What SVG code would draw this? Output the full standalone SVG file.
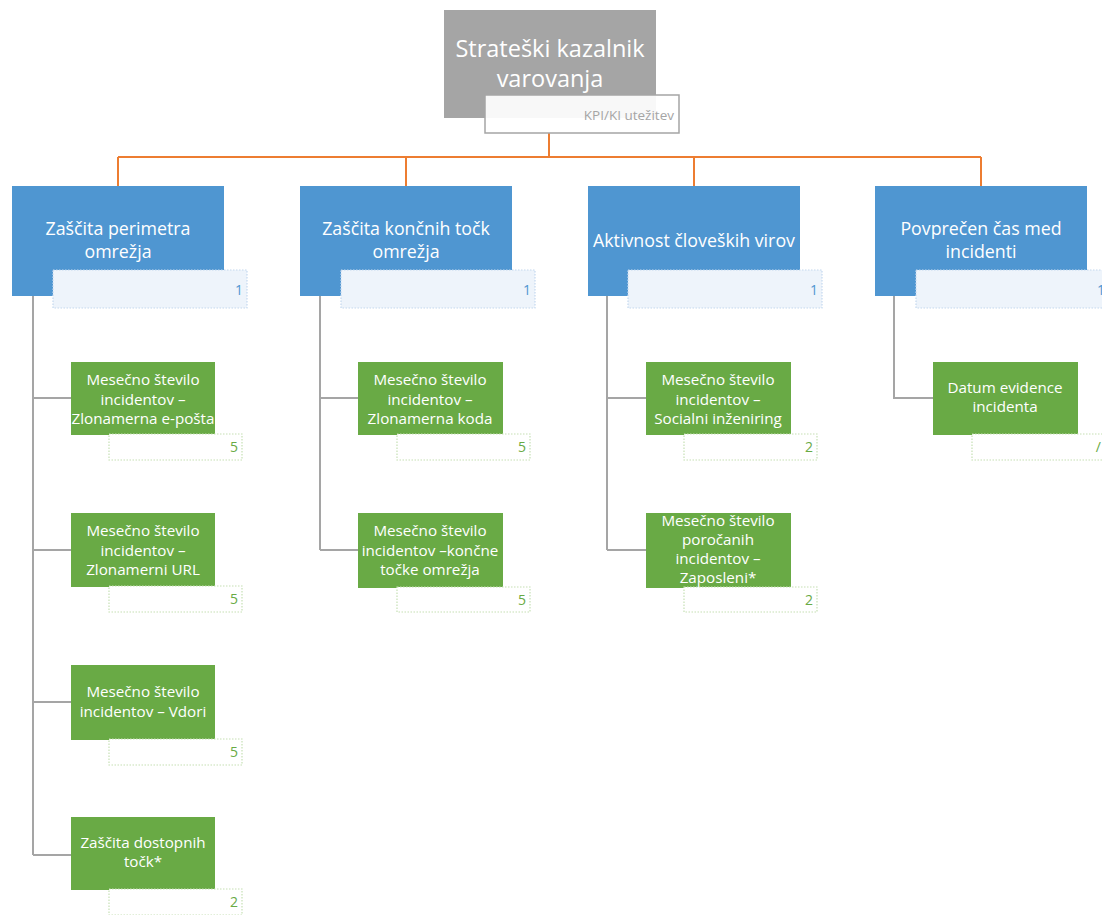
<svg xmlns="http://www.w3.org/2000/svg" width="1102" height="915" viewBox="0 0 1102 915">
<style>
text{font-family:"Open Sans","Noto Sans","DejaVu Sans",sans-serif}
.top{fill:#a5a5a5}
.blue{fill:#4f96d1}
.green{fill:#69aa45}
.tw{fill:#fff;text-anchor:middle}
.t1{font-size:23.5px}
.t2{font-size:17.8px}
.t3{font-size:15.2px}
.wb{fill:#eef4fb;stroke:#c3d8ee;stroke-width:1.2;stroke-dasharray:1.5 1.5}
.wg{fill:#fff;stroke:#c5e0b4;stroke-width:1.2;stroke-dasharray:1.5 1.5}
.nb{fill:#4f96d1;font-size:14px;text-anchor:end}
.ng{fill:#69aa45;font-size:14px;text-anchor:end}
.og{fill:none;stroke:#ed7d31;stroke-width:2}
.gc{fill:none;stroke:#a5a5a5;stroke-width:2}
</style>
<g id="connectors">
<path class="og" d="M549 133V157M118 157H981M118 157V186M406 157V186M694 157V186M981 157V186"/>
<path class="gc" d="M33 296V855M33 398H71M33 550H71M33 702H71M33 855H71"/>
<path class="gc" d="M320 296V550M320 398H358M320 550H358"/>
<path class="gc" d="M607 296V550M607 398H646M607 550H646"/>
<path class="gc" d="M894 296V398H933"/>
</g>
<g id="root">
<rect class="top" x="444" y="10" width="212" height="108"/>
<text class="tw t1" x="550" y="57">Strateški kazalnik</text>
<text class="tw t1" x="550" y="87">varovanja</text>
<rect x="485" y="95" width="194" height="38" fill="#fff" fill-opacity="0.92" stroke="#a5a5a5" stroke-width="1.5"/>
<text x="674" y="120" fill="#a5a5a5" font-size="13.5" text-anchor="end">KPI/KI utežitev</text>
</g>
<g id="n1">
<rect class="blue" x="12" y="186" width="212" height="110"/>
<text class="tw t2" x="118" y="235">Zaščita perimetra</text>
<text class="tw t2" x="118" y="258">omrežja</text>
<rect class="wb" x="53" y="270" width="194" height="38"/>
<text class="nb" x="243" y="295">1</text>
</g>
<g id="n2">
<rect class="blue" x="300" y="186" width="212" height="110"/>
<text class="tw t2" x="406" y="235">Zaščita končnih točk</text>
<text class="tw t2" x="406" y="258">omrežja</text>
<rect class="wb" x="341" y="270" width="194" height="38"/>
<text class="nb" x="531" y="295">1</text>
</g>
<g id="n3">
<rect class="blue" x="588" y="186" width="212" height="110"/>
<text class="tw t2" x="694" y="247">Aktivnost človeških virov</text>
<rect class="wb" x="628" y="270" width="194" height="38"/>
<text class="nb" x="818" y="295">1</text>
</g>
<g id="n4">
<rect class="blue" x="875" y="186" width="212" height="110"/>
<text class="tw t2" x="981" y="235">Povprečen čas med</text>
<text class="tw t2" x="981" y="258">incidenti</text>
<rect class="wb" x="916" y="270" width="194" height="38"/>
<text class="nb" x="1105" y="295">1</text>
</g>
<g id="c11">
<rect class="green" x="71" y="362" width="144" height="73"/>
<text class="tw t3" x="143" y="385">Mesečno število</text>
<text class="tw t3" x="143" y="405">incidentov –</text>
<text class="tw t3" x="143" y="424">Zlonamerna e-pošta</text>
<rect class="wg" x="109" y="434" width="133" height="26"/>
<text class="ng" x="238" y="452">5</text>
</g>
<g id="c12">
<rect class="green" x="71" y="513" width="144" height="74"/>
<text class="tw t3" x="143" y="536">Mesečno število</text>
<text class="tw t3" x="143" y="556">incidentov –</text>
<text class="tw t3" x="143" y="575">Zlonamerni URL</text>
<rect class="wg" x="109" y="586" width="133" height="26"/>
<text class="ng" x="238" y="604">5</text>
</g>
<g id="c13">
<rect class="green" x="71" y="665" width="144" height="75"/>
<text class="tw t3" x="143" y="697">Mesečno število</text>
<text class="tw t3" x="143" y="717">incidentov – Vdori</text>
<rect class="wg" x="109" y="739" width="133" height="26"/>
<text class="ng" x="238" y="757">5</text>
</g>
<g id="c14">
<rect class="green" x="71" y="817" width="144" height="73"/>
<text class="tw t3" x="143" y="848">Zaščita dostopnih</text>
<text class="tw t3" x="143" y="867">točk*</text>
<rect class="wg" x="109" y="889" width="133" height="26"/>
<text class="ng" x="238" y="907">2</text>
</g>
<g id="c21">
<rect class="green" x="358" y="362" width="145" height="73"/>
<text class="tw t3" x="430" y="385">Mesečno število</text>
<text class="tw t3" x="430" y="405">incidentov –</text>
<text class="tw t3" x="430" y="424">Zlonamerna koda</text>
<rect class="wg" x="397" y="434" width="133" height="26"/>
<text class="ng" x="526" y="452">5</text>
</g>
<g id="c22">
<rect class="green" x="358" y="513" width="145" height="75"/>
<text class="tw t3" x="430" y="536">Mesečno število</text>
<text class="tw t3" x="430" y="556">incidentov –končne</text>
<text class="tw t3" x="430" y="575">točke omrežja</text>
<rect class="wg" x="397" y="587" width="133" height="25"/>
<text class="ng" x="526" y="605">5</text>
</g>
<g id="c31">
<rect class="green" x="646" y="362" width="145" height="73"/>
<text class="tw t3" x="718" y="385">Mesečno število</text>
<text class="tw t3" x="718" y="405">incidentov –</text>
<text class="tw t3" x="718" y="424">Socialni inženiring</text>
<rect class="wg" x="684" y="434" width="133" height="26"/>
<text class="ng" x="813" y="452">2</text>
</g>
<g id="c32">
<rect class="green" x="646" y="513" width="145" height="75"/>
<text class="tw t3" x="718" y="526">Mesečno število</text>
<text class="tw t3" x="718" y="545">poročanih</text>
<text class="tw t3" x="718" y="564">incidentov –</text>
<text class="tw t3" x="718" y="583">Zaposleni*</text>
<rect class="wg" x="684" y="587" width="133" height="25"/>
<text class="ng" x="813" y="605">2</text>
</g>
<g id="c41">
<rect class="green" x="933" y="362" width="145" height="73"/>
<text class="tw t3" x="1005" y="393">Datum evidence</text>
<text class="tw t3" x="1005" y="412">incidenta</text>
<rect class="wg" x="972" y="434" width="133" height="26"/>
<text class="ng" x="1101" y="452">/</text>
</g>
</svg>
